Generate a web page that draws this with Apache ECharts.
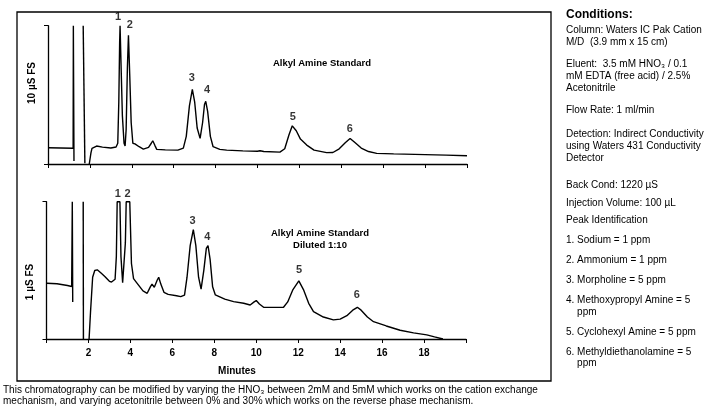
<!DOCTYPE html>
<html>
<head>
<meta charset="utf-8">
<script src="https://cdn.jsdelivr.net/npm/echarts/dist/echarts.min.js"></script>
<style>
  html, body { margin: 0; padding: 0; background: #fff; }
  #chart { width: 704px; height: 412px; }
</style>
</head>
<body>
<div id="chart"></div>
<script>
// minutes on x, percent of full scale on y
const xTicks = [2, 4, 6, 8, 10, 12, 14, 16, 18]

// 10 uS FS trace (top)
const topSpikeA = [[0.0, 11.7], [0.6, 11.6], [1.2, 11.4], [1.21, 100], [1.24, 2.2]]
const topSpikeB = [[1.68, 100], [1.76, 0.5]]
const topTrace = [
  [1.97, 0], [2.05, 8], [2.1, 11.3], [2.32, 13], [2.6, 12.2], [3.0, 11.6], [3.25, 12.3],
  [3.33, 15], [3.38, 45], [3.42, 88], [3.44, 100], [3.49, 70], [3.55, 35], [3.63, 15],
  [3.68, 13], [3.73, 25], [3.79, 70], [3.84, 93], [3.9, 65], [3.97, 30], [4.05, 15],
  [4.15, 14.6], [4.23, 15], [4.35, 12.5], [4.55, 10.8], [4.8, 12], [4.93, 15], [5.0, 16.8],
  [5.1, 13.5], [5.19, 10.6], [5.6, 10.2], [6.2, 10], [6.46, 11.5], [6.6, 20], [6.75, 42],
  [6.89, 54], [7.0, 45], [7.12, 26], [7.26, 18.5], [7.38, 30], [7.47, 43], [7.53, 45.3],
  [7.62, 38], [7.75, 20], [7.88, 12.5], [8.2, 10.6], [8.53, 10], [9.3, 9.5], [10.0, 9.2],
  [10.12, 9.6], [10.3, 9.0], [11.07, 8.6], [11.3, 11], [11.5, 21], [11.66, 27.6],
  [11.85, 24], [12.05, 18], [12.35, 13.7], [12.7, 10], [13.3, 8.2], [13.6, 8.3], [13.9, 11],
  [14.2, 15.5], [14.42, 18.5], [14.65, 15.5], [14.95, 11.5], [15.3, 9], [15.69, 7.7],
  [16.5, 7.3], [18, 6.8], [19.0, 6.4], [20.0, 6]
]

// 1 uS FS trace (bottom, diluted 1:10)
const botSpikeA = [[0.02, 40.6], [0.5, 40.2], [1.0, 39], [1.2, 38.2], [1.23, 100], [1.25, 27]]
const botSpikeB = [[1.75, 100], [1.76, 0]]
const botTrace = [
  [2.03, 0], [2.1, 20], [2.2, 45], [2.3, 49.9], [2.42, 50.4], [2.6, 48], [2.78, 45.5],
  [3.0, 42], [3.1, 41.5], [3.27, 43.5], [3.33, 60], [3.37, 100], [3.5, 100], [3.55, 60],
  [3.63, 41], [3.68, 40.6], [3.76, 70], [3.8, 100], [3.97, 100], [4.05, 55], [4.15, 44],
  [4.35, 40], [4.6, 35], [4.8, 33.3], [4.95, 38], [5.03, 40], [5.14, 37.7], [5.28, 43],
  [5.35, 45], [5.45, 40], [5.6, 34], [5.8, 32.5], [6.2, 31.5], [6.4, 30.9], [6.58, 32],
  [6.7, 45], [6.85, 68], [7.0, 79.6], [7.12, 68], [7.25, 45], [7.37, 36.3], [7.5, 50],
  [7.62, 66], [7.7, 68.1], [7.8, 58], [7.92, 38], [8.05, 32.1], [8.5, 29], [8.92, 27.2],
  [9.4, 26], [9.71, 24.8], [9.9, 27], [10.0, 28], [10.15, 25.5], [10.35, 23.1], [11.0, 23],
  [11.3, 23.1], [11.5, 27], [11.75, 36], [12.03, 42.3], [12.25, 36], [12.5, 26], [12.73, 20],
  [13.2, 16], [13.68, 13.9], [14.0, 14.5], [14.32, 17], [14.6, 21], [14.82, 23.1], [15.0, 21],
  [15.3, 16], [15.59, 12.6], [16.2, 9.5], [16.86, 6.4], [17.5, 4.5], [18.13, 3], [18.5, 1.5],
  [18.9, 0]
]

// peak numbers, placed in data units
const topPeakLabels = [[3.34, 106.3, '1'], [3.91, 100.5, '2'], [6.87, 62.2, '3'], [7.59, 53.5, '4'], [11.69, 34, '5'], [14.41, 25.3, '6']]
const botPeakLabels = [[3.4, 105.6, '1'], [3.87, 105.6, '2'], [6.96, 85.9, '3'], [7.67, 74.3, '4'], [12.04, 50.3, '5'], [14.8, 32, '6']]

const conditions = [
  ['Column: Waters IC Pak Cation', 30],
  ['M/D  (3.9 mm x 15 cm)', 42],
  ['Eluent:  3.5 mM HNO₃ / 0.1', 64],
  ['mM EDTA (free acid) / 2.5%', 76],
  ['Acetonitrile', 88],
  ['Flow Rate: 1 ml/min', 110],
  ['Detection: Indirect Conductivity', 134],
  ['using Waters 431 Conductivity', 146],
  ['Detector', 158],
  ['Back Cond: 1220 µS', 185],
  ['Injection Volume: 100 µL', 203],
  ['Peak Identification', 220],
  ['1. Sodium = 1 ppm', 240],
  ['2. Ammonium = 1 ppm', 260],
  ['3. Morpholine = 5 ppm', 280],
  ['4. Methoxypropyl Amine = 5', 300],
  ['    ppm', 312],
  ['5. Cyclohexyl Amine = 5 ppm', 332],
  ['6. Methyldiethanolamine = 5', 352],
  ['    ppm', 363]
]

const ink = '#000'
const font = 'Liberation Sans, Arial, sans-serif'

const chart = echarts.init(document.getElementById('chart'), null, { renderer: 'canvas' })

function axisX(gridIndex, showLabels) {
  return {
    type: 'value', gridIndex, min: 0, max: 20, interval: 2,
    axisLine: { lineStyle: { color: ink, width: 1.3 } },
    axisTick: { length: 4, lineStyle: { color: ink } },
    splitLine: { show: false },
    axisLabel: {
      show: showLabels, margin: 9, color: ink, fontSize: 10, fontWeight: 'bold', fontFamily: font,
      formatter: v => (xTicks.indexOf(v) >= 0 ? String(v) : '')
    }
  }
}
function axisY(gridIndex) {
  return {
    type: 'value', gridIndex, min: 0, max: 100, interval: 100,
    axisLine: { show: true, lineStyle: { color: ink, width: 1.3 } },
    axisTick: { show: true, length: 4, lineStyle: { color: ink } },
    splitLine: { show: false },
    axisLabel: { show: false }
  }
}
function trace(data, idx) {
  return {
    type: 'line', data, xAxisIndex: idx, yAxisIndex: idx, showSymbol: false,
    lineStyle: { color: ink, width: 1.4 }, animation: false, silent: true
  }
}
function peakNumbers(data, idx) {
  return {
    type: 'scatter', data, xAxisIndex: idx, yAxisIndex: idx, symbolSize: 0, clip: false,
    animation: false, silent: true, itemStyle: { color: ink },
    label: {
      show: true, position: 'inside', formatter: p => p.data[2],
      color: ink, textBorderWidth: 0, fontSize: 11, fontWeight: 'bold', fontFamily: font
    }
  }
}

const graphic = [
  { type: 'rect', shape: { x: 17, y: 12, width: 534, height: 369 }, style: { fill: 'none', stroke: ink, lineWidth: 1.3 } },
  { type: 'text', x: 32, y: 83, rotation: Math.PI / 2, style: { text: '10 µS FS', font: 'bold 10px ' + font, fill: ink, textAlign: 'center', textVerticalAlign: 'middle' } },
  { type: 'text', x: 30, y: 282, rotation: Math.PI / 2, style: { text: '1 µS FS', font: 'bold 10px ' + font, fill: ink, textAlign: 'center', textVerticalAlign: 'middle' } },
  { type: 'text', x: 322, y: 63, style: { text: 'Alkyl Amine Standard', font: 'bold 9.5px ' + font, fill: ink, textAlign: 'center', textVerticalAlign: 'middle' } },
  { type: 'text', x: 320, y: 233, style: { text: 'Alkyl Amine Standard', font: 'bold 9.5px ' + font, fill: ink, textAlign: 'center', textVerticalAlign: 'middle' } },
  { type: 'text', x: 320, y: 245, style: { text: 'Diluted 1:10', font: 'bold 9.5px ' + font, fill: ink, textAlign: 'center', textVerticalAlign: 'middle' } },
  { type: 'text', x: 237, y: 371, style: { text: 'Minutes', font: 'bold 10px ' + font, fill: ink, textAlign: 'center', textVerticalAlign: 'middle' } },
  { type: 'text', x: 566, y: 15, style: { text: 'Conditions:', font: 'bold 12px ' + font, fill: ink, textVerticalAlign: 'middle' } },
  { type: 'text', x: 3, y: 390, style: { text: 'This chromatography can be modified by varying the HNO₃ between 2mM and 5mM which works on the cation exchange', font: '10px ' + font, fill: ink, textVerticalAlign: 'middle' } },
  { type: 'text', x: 3, y: 401, style: { text: 'mechanism, and varying acetonitrile between 0% and 30% which works on the reverse phase mechanism.', font: '10px ' + font, fill: ink, textVerticalAlign: 'middle' } }
]
conditions.forEach(c => {
  graphic.push({ type: 'text', x: 566, y: c[1], style: { text: c[0], font: '10px ' + font, fill: ink, textVerticalAlign: 'middle' } })
})

chart.setOption({
  backgroundColor: '#fff',
  animation: false,
  grid: [
    { left: 48, right: 237, top: 25.7, bottom: 248 },
    { left: 46.5, right: 238, top: 201.7, bottom: 73 }
  ],
  xAxis: [axisX(0, false), axisX(1, true)],
  yAxis: [axisY(0), axisY(1)],
  series: [
    trace(topSpikeA, 0), trace(topSpikeB, 0), trace(topTrace, 0),
    trace(botSpikeA, 1), trace(botSpikeB, 1), trace(botTrace, 1),
    peakNumbers(topPeakLabels, 0), peakNumbers(botPeakLabels, 1)
  ],
  graphic
})
</script>
</body>
</html>
